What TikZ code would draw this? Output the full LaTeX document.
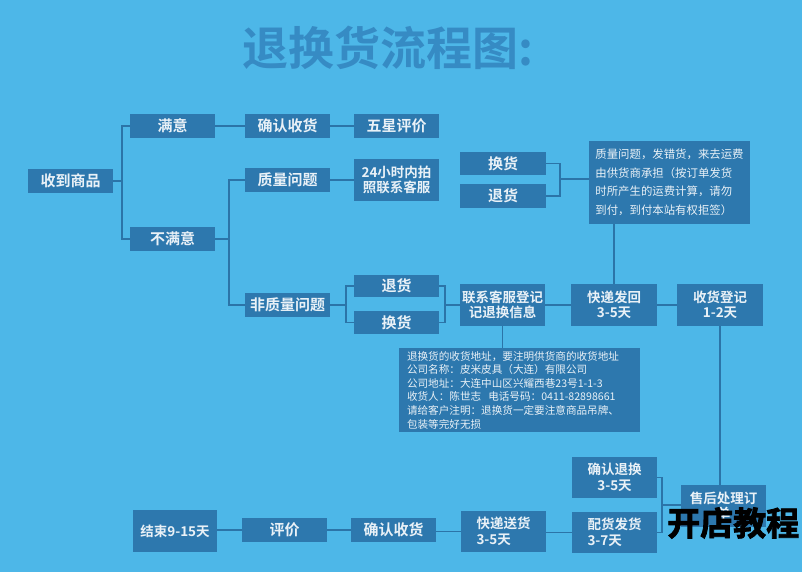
\documentclass[tikz,border=0pt]{standalone}
\usepackage{fontspec}
\setmainfont{Noto Sans CJK SC}[BoldFont={Noto Sans CJK SC Bold}]
\newfontfamily\wmfont{Noto Sans CJK SC Bold}[FakeBold=2.5]
\definecolor{bgc}{HTML}{4DB7E8}
\definecolor{boxc}{HTML}{2D78AE}
\definecolor{linec}{HTML}{2B74A8}
\definecolor{txtc}{HTML}{E9F1F7}
\definecolor{titlec}{HTML}{368BC4}
\tikzset{
  box/.style={fill=boxc, text=txtc, inner sep=0pt, align=center,
    font=\bfseries\fontsize{15}{17}\selectfont, minimum width=85pt, minimum height=24pt},
  tbox/.style={box, font=\bfseries\fontsize{13.5}{15.5}\selectfont, minimum height=42pt},
  lbox/.style={tbox, align=left},
  notebox/.style={fill=boxc, text=txtc, inner sep=0pt, align=left},
  lnk/.style={draw=linec, line width=1.3pt}
}
\begin{document}
\begin{tikzpicture}[x=1pt, y={(0pt,-1pt)}]
\useasboundingbox (0,0) rectangle (802,572);
\fill[bgc] (0,0) rectangle (802,572);

\node[font=\bfseries\fontsize{46}{50}\selectfont, text=titlec, inner sep=0pt] (title) at (388,48) {退换货流程图:};

% top part
\node[box] (recv) at (70.5,181) {收到商品};
\node[box] (sat) at (172.5,126) {满意};
\node[box] (conf1) at (287.5,126) {确认收货};
\node[box] (five) at (396.5,126) {五星评价};
\node[box] (unsat) at (172.5,239) {不满意};
\node[box] (qual) at (287.5,180) {质量问题};
\node[tbox] (h24) at (396.5,180) {24小时内拍\\照联系客服};
\node[box, minimum width=86pt, minimum height=23pt] (hh1) at (503,163.5) {换货};
\node[box, minimum width=86pt] (th1) at (503,196) {退货};
\node[notebox, minimum width=161pt, minimum height=83pt,
  font=\fontsize{11.4}{18.5}\selectfont] (note) at (669.5,182.5)
  {质量问题，发错货，来去运费\\由供货商承担（按订单发货\\时所产生的运费计算，请勿\\到付，到付本站有权拒签）};

% middle part
\node[box] (nonq) at (287.5,305) {非质量问题};
\node[box, minimum height=22pt] (th2) at (396.5,286) {退货};
\node[box, minimum height=23pt] (hh2) at (396.5,322.5) {换货};
\node[tbox] (contact) at (502.5,305) {联系客服登记\\记退换信息};
\node[tbox, minimum width=86pt] (back) at (614,305) {快递发回\\3-5天};
\node[tbox, minimum width=86pt] (reg) at (720,305) {收货登记\\1-2天};
\node[notebox, minimum width=241pt, minimum height=84pt,
  font=\fontsize{10.6}{13.6}\selectfont, text width=225pt] (addr) at (519.5,390)
  {退换货的收货地址，要注明供货商的收货地址\\公司名称：皮米皮具（大连）有限公司\\公司地址：大连中山区兴耀西巷23号1-1-3\\收货人：陈世志\ \ 电话号码：0411-82898661\\请给客户注明：退换货一定要注意商品吊牌、\\包装等完好无损};

% bottom part
\node[tbox] (after) at (723.5,506) {售后处理订\\单};
\node[tbox, minimum height=41pt] (confx) at (614.5,477.5) {确认退换\\3-5天};
\node[lbox, minimum height=41pt] (pick) at (614.5,532.5) {配货发货\\3-7天};
\node[lbox, minimum height=41pt] (send) at (503.5,531.5) {快递送货\\3-5天};
\node[box] (conf2) at (393.5,530) {确认收货};
\node[box] (eval) at (284.5,530) {评价};
\node[tbox, minimum width=84pt] (end) at (175,531) {结束9-15天};

% bracket points
\coordinate (b1) at (122,181);
\coordinate (b2) at (229,239);
\coordinate (b3) at (560,179);
\coordinate (b4) at (346,305);
\coordinate (b5) at (445,305);
\coordinate (b6) at (662,505);

% connectors
\draw[lnk] (recv.east) -- (b1);
\draw[lnk] (sat.west) -| (b1) |- (unsat.west);
\draw[lnk] (sat.east) -- (conf1.west);
\draw[lnk] (conf1.east) -- (five.west);
\draw[lnk] (unsat.east) -- (b2);
\draw[lnk] (qual.west) -| (b2) |- (nonq.west);
\draw[lnk] (qual.east) -- (h24.west);
\draw[lnk] (hh1.east) -| (b3) |- (th1.east);
\draw[lnk] (b3) -- (b3 -| note.west);
\draw[lnk] (back.north) -- (back.north |- note.south);
\draw[lnk] (nonq.east) -- (b4);
\draw[lnk] (th2.west) -| (b4) |- (hh2.west);
\draw[lnk] (th2.east) -| (b5) |- (hh2.east);
\draw[lnk] (b5) -- (contact.west);
\draw[lnk] (contact.east) -- (back.west);
\draw[lnk] (back.east) -- (reg.west);
\draw[lnk] (contact.south) -- (contact.south |- addr.north);
\draw[lnk] (reg.south) -- (reg.south |- after.north);
\draw[lnk] (confx.east) -| (b6) |- (pick.east);
\draw[lnk] (b6) -- (b6 -| after.west);
\draw[lnk] (pick.west) -- (pick.west -| send.east);
\draw[lnk] (send.west) -- (send.west -| conf2.east);
\draw[lnk] (conf2.west) -- (conf2.west -| eval.east);
\draw[lnk] (eval.west) -- (eval.west -| end.east);

% watermark
\node[anchor=west, inner sep=0pt, text=black, font=\wmfont\fontsize{33}{33}\selectfont] (wm) at (667,523) {开店教程};
\end{tikzpicture}
\end{document}
